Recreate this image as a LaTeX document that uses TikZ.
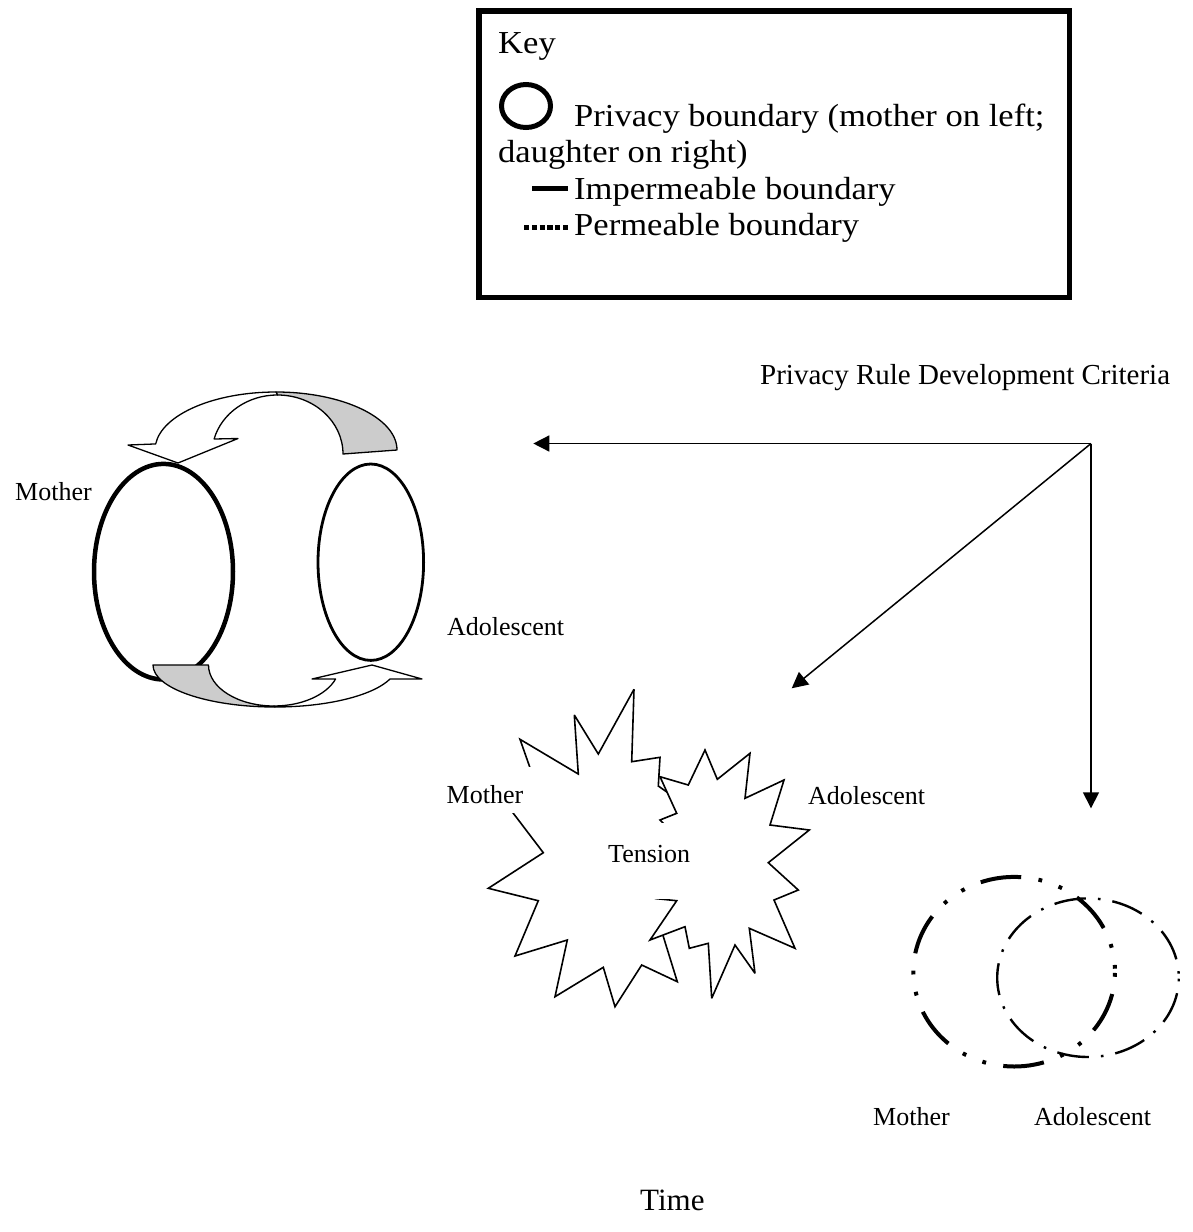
\documentclass[tikz,border=0pt]{standalone}
\usepackage{fontspec}
\setmainfont{Liberation Serif}
\newfontfamily\keyfont[FakeStretch=1.08]{Liberation Serif}
\usetikzlibrary{arrows.meta}
\begin{document}
\begin{tikzpicture}[x=1pt,y=1pt,
  keytxt/.style={font=\keyfont\fontsize{32}{38}\selectfont, inner sep=0pt, anchor=base west},
  lbl/.style={font=\fontsize{26}{30}\selectfont, inner sep=0pt, anchor=base west},
  conn/.style={line width=1.5pt, -{Triangle[length=16pt,width=16pt]}},
  band/.style={line width=1.3pt, line join=round},
  starline/.style={line width=1.6pt, miter limit=4, fill=white},
  shade/.style={fill=black!20}
]
\useasboundingbox (0,0) rectangle (1193,-1232);

% ---------- Key ----------
\draw[line width=5.5pt] (478.75,-10.75) rectangle (1069.25,-297.25);
\node[keytxt] (kkey) at (498,-53.3) {Key};
\draw[line width=5pt] (526,-106) ellipse [x radius=24.5, y radius=21.5];
\node[keytxt] (kpriv) at (574,-126.7) {Privacy boundary (mother on left;};
\node[keytxt] (kdau) at (498,-162.7) {daughter on right)};
\draw[line width=5pt] (532,-188.5) -- (568,-188.5);
\node[keytxt] (kimp) at (574,-199.3) {Impermeable boundary};
\draw[line width=5pt, dash pattern=on 5.2pt off 2.6pt] (524,-227.7) -- (568,-227.7);
\node[keytxt] (kperm) at (574,-235) {Permeable boundary};

% ---------- Criteria and connectors ----------
\node[font=\fontsize{29}{34}\selectfont, inner sep=0pt, anchor=base west] (crit) at (760,-384) {Privacy Rule Development Criteria};
\coordinate (hub) at (1091,-443.5);
\coordinate (toL) at (533.3,-443.5);
\coordinate (toM) at (791.7,-688.3);
\coordinate (toR) at (1091,-808.3);
\draw[conn] (hub) -- (toL);
\draw[conn] (hub) -- (toM);
\draw[conn] (hub) -- (toR);

% ---------- Left group: impermeable boundaries ----------
\draw[line width=4.5pt] (163.5,-571.7) ellipse [x radius=69.5, y radius=107.8];
\draw[line width=2.8pt] (370.8,-562.2) ellipse [x radius=52.8, y radius=98.2];
% top curved arrow
\draw[band, shade] (397,-450) arc[start angle=0, end angle=90, x radius=121, y radius=58]
  -- (277.5,-395) arc[start angle=90, end angle=0, x radius=65.5, y radius=59] -- cycle;
\draw[band, fill=white] (276,-392) arc[start angle=90, end angle=174, x radius=121, y radius=58]
  -- (128,-445) -- (178,-463) -- (238,-438.5) -- (214.1,-439)
  arc[start angle=165.3, end angle=90, x radius=65.5, y radius=59] -- cycle;
% bottom curved arrow
\draw[band, shade] (153,-665) arc[start angle=180, end angle=270, x radius=122, y radius=42]
  -- (274,-706) arc[start angle=270, end angle=180, x radius=65.5, y radius=41] -- cycle;
\draw[band, fill=white] (275,-707) arc[start angle=270, end angle=340.5, x radius=122, y radius=42]
  -- (422,-679) -- (372,-665) -- (312,-679) -- (335.6,-679)
  arc[start angle=340, end angle=270, x radius=65.5, y radius=41] -- cycle;
\node[lbl] (lmother) at (15,-500) {Mother};
\node[lbl] (ladol) at (447,-635) {Adolescent};

% ---------- Middle group: tension ----------
\draw[starline] (634.0,-689.3) -- (631.7,-761.7) -- (660.0,-757.3) -- (658.3,-786.0)
  -- (706.7,-820.0) -- (693.3,-846.7) -- (720.0,-886.7) -- (686.7,-893.3) -- (661.3,-930.0)
  -- (677.3,-981.7) -- (641.7,-965.0) -- (615.0,-1006.7) -- (603.3,-967.3) -- (555.0,-996.7)
  -- (567.3,-940.0) -- (515.0,-956.0) -- (538.3,-900.7) -- (488.3,-888.3) -- (543.3,-852.7)
  -- (508.3,-806.7) -- (534.3,-780.0) -- (520.0,-739.3) -- (578.3,-774.0) -- (574.3,-715.0)
  -- (598.3,-754.0) -- cycle;
\draw[starline] (660.0,-776.7) -- (688.3,-785.0) -- (705.0,-750.0) -- (717.3,-779.3)
  -- (750.0,-753.3) -- (745.0,-798.3) -- (784.0,-780.0) -- (770.0,-825.0) -- (809.3,-830.0)
  -- (768.3,-862.7) -- (798.3,-890.0) -- (774.0,-900.0) -- (795.0,-948.3) -- (749.3,-928.3)
  -- (755.0,-973.3) -- (735.0,-945.0) -- (711.7,-998.3) -- (708.3,-943.3) -- (689.3,-948.3)
  -- (685.0,-926.7) -- (650.0,-940.0) -- (676.7,-900.7) -- (656.7,-898.7) -- (680.0,-880.0)
  -- (653.3,-866.7) -- (680.0,-840.0) -- (660.0,-820.0) -- (676.7,-813.3) -- cycle;
\fill[white] (440,-767) rectangle (540,-813);
\fill[white] (607,-823) rectangle (693,-899);
\node[lbl] (mmother) at (446.5,-803) {Mother};
\node[lbl] (mtension) at (608,-862) {Tension};
\node[lbl] (madol) at (808,-804) {Adolescent};

% ---------- Right group: permeable boundaries ----------
\draw[line width=4pt, dash pattern=on 41pt off 17.5pt on 3.8pt off 17.5pt on 3.8pt off 17.5pt, dash phase=55.5]
  (1014.2,-971.7) ellipse [x radius=100.8, y radius=94.8];
\draw[line width=2.4pt, dash pattern=on 32pt off 12pt on 2.6pt off 12pt, dash phase=40]
  (1088,-977.7) ellipse [x radius=90.8, y radius=79.3];
\node[lbl] (rmother) at (873,-1125) {Mother};
\node[lbl] (radol) at (1034,-1125) {Adolescent};

% ---------- Time ----------
\node[font=\fontsize{31}{36}\selectfont, inner sep=0pt, anchor=base west] (time) at (640,-1210) {Time};
\end{tikzpicture}
\end{document}
